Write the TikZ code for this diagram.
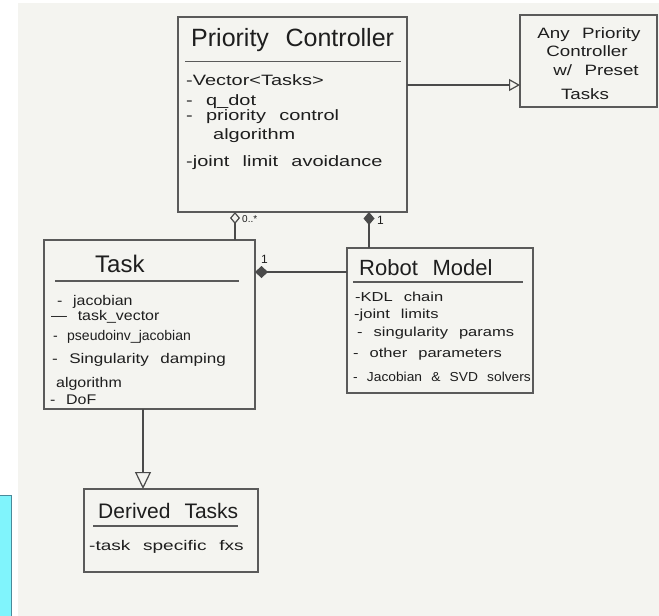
\documentclass[tikz,border=0pt]{standalone}
\usepackage{fontspec}
\setmainfont[WordSpace={2.4}]{Liberation Sans}
\usetikzlibrary{arrows.meta}
\definecolor{bg}{HTML}{F4F4F0}
\definecolor{boxline}{HTML}{5A5A5A}
\definecolor{conline}{HTML}{4A4A4A}
\definecolor{inkt}{HTML}{1E1E1E}
\definecolor{cyanbox}{HTML}{80F4FC}
\definecolor{cyanedge}{HTML}{4A8A9A}
\newcommand\myfs[2]{\fontsize{#1}{#1}\selectfont\addfontfeatures{FakeStretch=#2}}
\tikzset{
  umlbox/.style={draw=boxline, line width=1.4pt, inner sep=0pt, outer sep=0pt, anchor=north west},
  divider/.style={draw=boxline, line width=1.2pt},
  conn/.style={draw=conline, line width=1.2pt},
  ttl/.style={text=inkt, inner sep=0pt, anchor=base west},
  attr/.style={text=inkt, inner sep=0pt, anchor=base west, font=\myfs{15}{1.33}},
  tattr/.style={text=inkt, inner sep=0pt, anchor=base west, font=\myfs{14}{1.14}},
  rattr/.style={text=inkt, inner sep=0pt, anchor=base west, font=\myfs{13}{1.27}},
  dattr/.style={text=inkt, inner sep=0pt, anchor=base west, font=\myfs{14}{1.36}},
  mult/.style={text=inkt, inner sep=0pt, anchor=west},
  anytxt/.style={text=inkt, inner sep=0pt, anchor=base, font=\myfs{15}{1.25}}
}
\begin{document}
\begin{tikzpicture}[x=1pt,y=-1pt]
\useasboundingbox (0,0) rectangle (659,616);
\fill[white] (0,0) rectangle (659,616);
\fill[bg] (18,3) rectangle (659,616);
\filldraw[fill=cyanbox, draw=cyanedge, line width=0.8pt] (-2,495) rectangle (11,618);

% boxes
\node[umlbox, minimum width=229pt, minimum height=195pt] (pc) at (178,17) {};
\node[umlbox, minimum width=137pt, minimum height=92pt] (any) at (520,15) {};
\node[umlbox, minimum width=211pt, minimum height=169pt] (task) at (44,240) {};
\node[umlbox, minimum width=186pt, minimum height=145pt] (robot) at (347,248) {};
\node[umlbox, minimum width=174pt, minimum height=83pt] (derived) at (84,489) {};

% Priority Controller
\node[ttl, font=\fontsize{25}{28}\selectfont] (pct) at (191,46) {Priority Controller};
\draw[divider] (185,61.7) -- (401,61.7);
\node[attr] (pca1) at (186,85) {-Vector<Tasks>};
\node[attr] (pca2) at (186,105) {- q\_dot};
\node[attr] (pca3) at (186,120) {- priority control};
\node[attr] (pca4) at (213,139) {algorithm};
\node[attr] (pca5) at (186,166) {-joint limit avoidance};

% Any Priority Controller
\node[anytxt] (an1) at (589,38) {Any Priority};
\node[anytxt] (an2) at (587,56) {Controller};
\node[anytxt] (an3) at (596,75) {w/ Preset};
\node[anytxt] (an4) at (585,99) {Tasks};

% Task
\node[ttl, font=\fontsize{24}{28}\selectfont] (tt) at (95,272) {Task};
\draw[divider] (55,281) -- (239,281);
\node[tattr] (ta1) at (57,305) {- jacobian};
\node[tattr] (ta2) at (51,320) {— task\_vector};
\node[tattr, font=\myfs{14}{1.0}] (ta3) at (53,340) {- pseudoinv\_jacobian};
\node[tattr, font=\myfs{14}{1.22}] (ta4) at (52,363) {- Singularity damping};
\node[tattr] (ta5) at (56,387) {algorithm};
\node[tattr] (ta6) at (50,404) {- DoF};

% Robot Model
\node[ttl, font=\fontsize{22}{26}\selectfont] (rt) at (359,275) {Robot Model};
\draw[divider] (353,282) -- (523,282);
\node[rattr] (ra1) at (355,301) {-KDL chain};
\node[rattr] (ra2) at (354,318) {-joint limits};
\node[rattr] (ra3) at (357,336) {- singularity params};
\node[rattr] (ra4) at (353,357) {- other parameters};
\node[rattr, font=\myfs{13}{1.06}] (ra5) at (353,381) {- Jacobian \& SVD solvers};

% Derived Tasks
\node[ttl, font=\fontsize{21}{25}\selectfont] (dt) at (98,518) {Derived Tasks};
\draw[divider] (93,526) -- (238,526);
\node[dattr] (da1) at (89,550) {-task specific fxs};

% connectors
\draw[conn, -{Triangle[open, length=11pt, width=12pt]}] (pc.east |- 0,85) -- (any.west |- 0,85);
\draw[conn, -{Diamond[open, length=12pt, width=10pt]}] (task.north -| 235,0) -- (pc.south -| 235,0);
\draw[conn, -{Diamond[length=13pt, width=11pt]}] (robot.north -| 369,0) -- (pc.south -| 369,0);
\draw[conn, -{Diamond[length=13pt, width=12pt]}] (robot.west |- 0,272) -- (task.east |- 0,272);
\draw[conn, -{Triangle[open, length=17pt, width=16pt]}] (task.south -| 143,0) -- (derived.north -| 143,0);

% multiplicities
\node[mult, font=\fontsize{10}{11}\selectfont] (m1) at (242,219) {0..*};
\node[mult, font=\fontsize{12}{13}\selectfont] (m2) at (377,220) {1};
\node[mult, font=\fontsize{12}{13}\selectfont] (m3) at (261,259) {1};
\end{tikzpicture}
\end{document}
